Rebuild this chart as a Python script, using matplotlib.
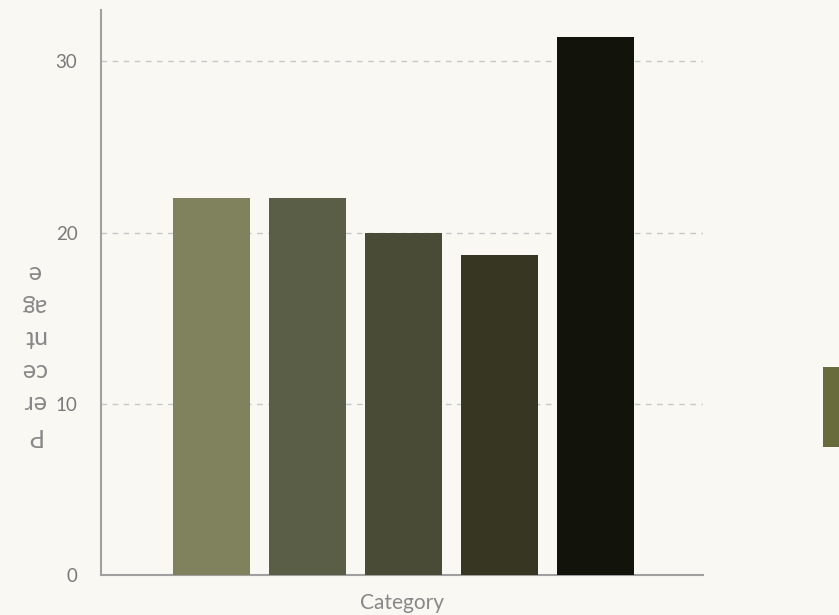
import matplotlib
matplotlib.use("Agg")
import matplotlib.pyplot as plt
from matplotlib.patches import Rectangle

# ── data ──────────────────────────────────────────────────
categories = ["A", "B", "C", "D", "E"]
values     = [22.0, 22.0, 20.0, 18.7, 31.4]
colors     = ["#7f825c", "#5b5e47", "#4a4b36", "#363623", "#12130b"]
yticks     = [0, 10, 20, 30]

BG   = "#f9f8f3"
GRAY = "#7a7a7a"

plt.rcParams["font.family"] = ["Lato", "DejaVu Sans"]

fig = plt.figure(figsize=(8.39, 6.15), dpi=100, facecolor=BG)
ax = fig.add_axes([0.1204, 0.065, 0.7175, 0.9187], facecolor=BG)

xs = list(range(len(categories)))
ax.bar(xs, values, width=0.8, color=colors, zorder=3)

ax.set_xlim(-1.15, 5.12)
ax.set_ylim(0, 33)
ax.set_yticks(yticks)
ax.set_xticks([])
ax.yaxis.grid(True, linestyle=(0, (4, 4)), color="#c8c8c8", linewidth=1, zorder=0)

for s in ["top", "right"]:
    ax.spines[s].set_visible(False)
for s in ["left", "bottom"]:
    ax.spines[s].set_color("#a0a0a0")
    ax.spines[s].set_linewidth(1.5)

ax.tick_params(axis="y", length=0, pad=17, labelsize=13.5, labelcolor=GRAY)

ax.set_xlabel("Category", fontsize=15, color="#888888", labelpad=13)

# y label: wrapped and upside down, as in the original
fig.text(0.040, 0.424, "P\ner\nce\nnt\nag\ne", rotation=180, ha="center", va="center",
         multialignment="center", fontsize=18, color="#888888", linespacing=1.5)

# partly visible legend swatch at the right edge
fig.patches.append(Rectangle((823 / 839, 1 - 447 / 615), 0.05, 80 / 615,
                             transform=fig.transFigure, facecolor="#686b3c",
                             edgecolor="none"))

fig.savefig("out.png", dpi=100, facecolor=BG)
